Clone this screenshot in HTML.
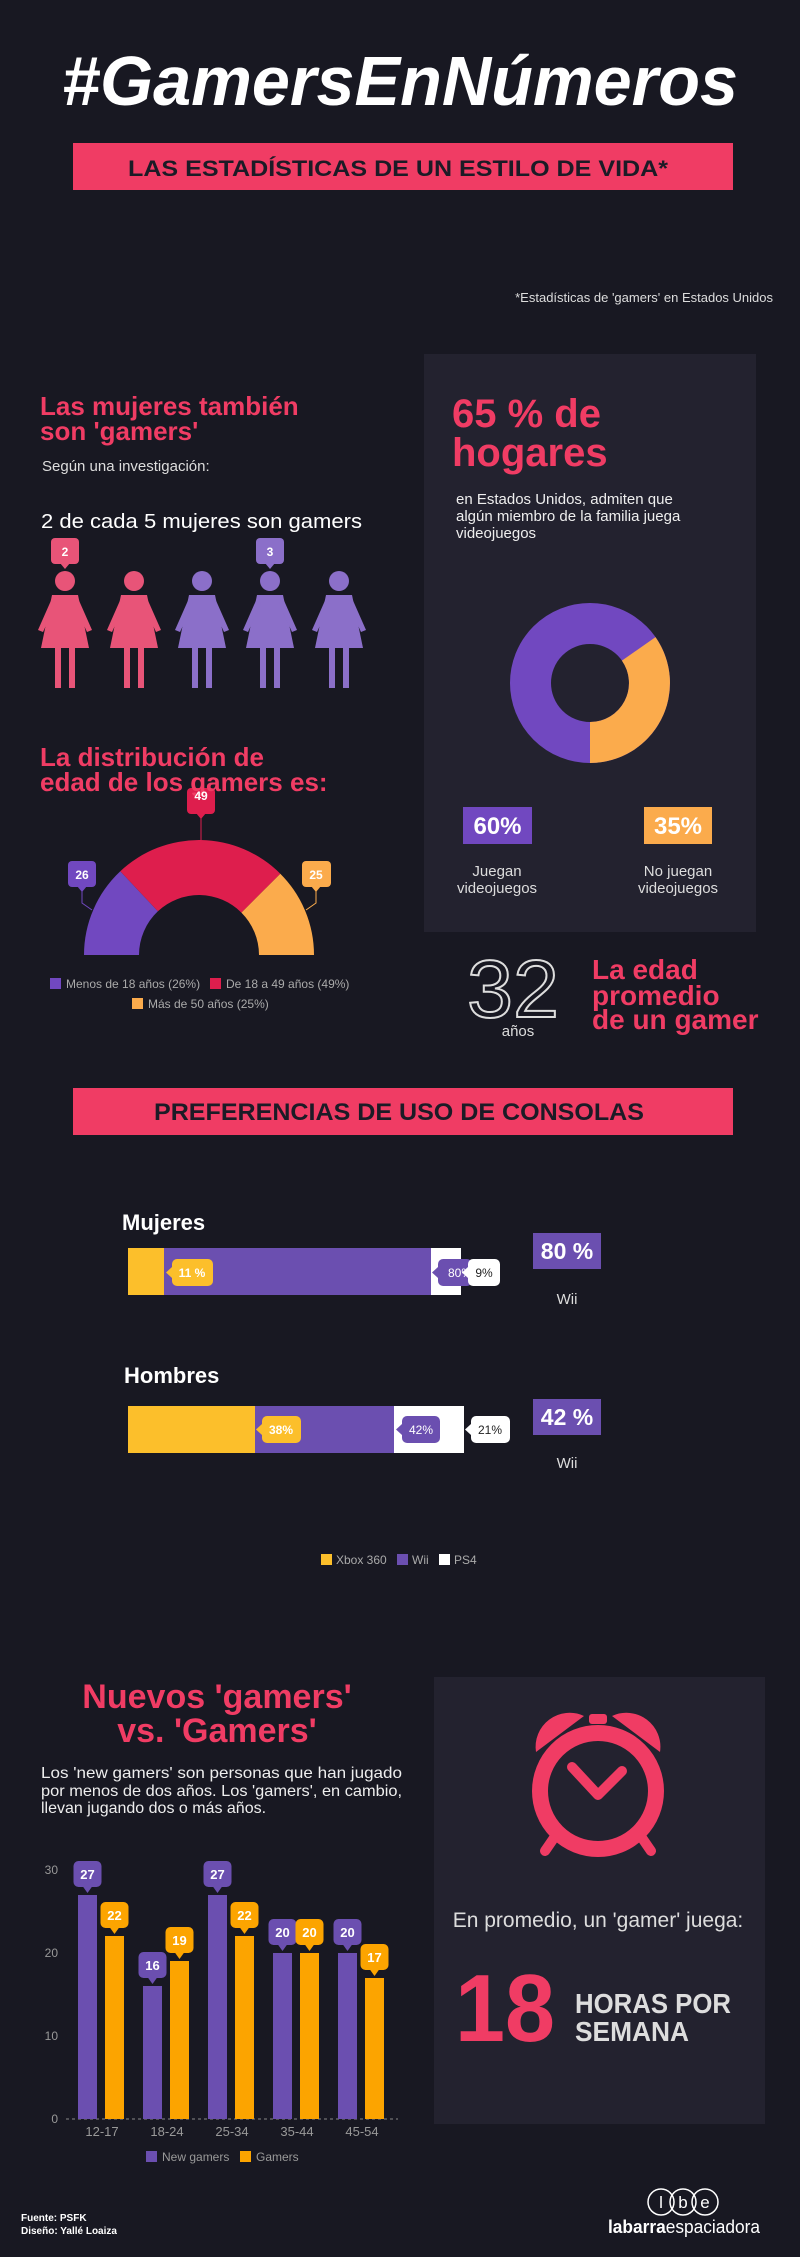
<!DOCTYPE html>
<html><head><meta charset="utf-8"><style>
html,body{margin:0;padding:0;background:#181822}
svg{display:block}
text{font-family:"Liberation Sans",sans-serif}
</style></head><body>
<svg width="800" height="2257" viewBox="0 0 800 2257" xmlns="http://www.w3.org/2000/svg">
<rect width="800" height="2257" fill="#181822"/>
<!-- Title -->
<text x="400" y="105" text-anchor="middle" font-size="70" font-weight="bold" font-style="italic" fill="#fff" textLength="676" lengthAdjust="spacingAndGlyphs">#GamersEnNúmeros</text>
<rect x="73" y="143" width="660" height="47" fill="#f03c64"/>
<text x="398" y="176" text-anchor="middle" font-size="22" font-weight="bold" fill="#1c1b26" textLength="540" lengthAdjust="spacingAndGlyphs">LAS ESTADÍSTICAS DE UN ESTILO DE VIDA*</text>
<text x="773" y="302" text-anchor="end" font-size="13" fill="#ddd">*Estadísticas de 'gamers' en Estados Unidos</text>

<!-- right panel -->
<rect x="424" y="354" width="332" height="578" fill="#23222f"/>
<text x="452" y="427" font-size="40" font-weight="bold" fill="#f03c64">65 % de</text>
<text x="452" y="466" font-size="40" font-weight="bold" fill="#f03c64">hogares</text>
<text x="456" y="504" font-size="15" fill="#eee">en Estados Unidos, admiten que</text>
<text x="456" y="521" font-size="15" fill="#eee">algún miembro de la familia juega</text>
<text x="456" y="538" font-size="15" fill="#eee">videojuegos</text>
<circle cx="590" cy="683" r="59.5" fill="none" stroke="#7148c0" stroke-width="41"/>
<path d="M655.5 637.1 A80 80 0 0 1 590 763 L590 722 A39 39 0 0 0 621.9 660.6 Z" fill="#fbab4c"/>
<rect x="463" y="807" width="69" height="37" fill="#7148c0"/>
<text x="497.5" y="834" text-anchor="middle" font-size="24" font-weight="bold" fill="#fff">60%</text>
<rect x="644" y="807" width="68" height="37" fill="#fbab4c"/>
<text x="678" y="834" text-anchor="middle" font-size="24" font-weight="bold" fill="#fff">35%</text>
<text x="497" y="876" text-anchor="middle" font-size="15" fill="#ddd">Juegan</text>
<text x="497" y="893" text-anchor="middle" font-size="15" fill="#ddd">videojuegos</text>
<text x="678" y="876" text-anchor="middle" font-size="15" fill="#ddd">No juegan</text>
<text x="678" y="893" text-anchor="middle" font-size="15" fill="#ddd">videojuegos</text>

<!-- left: women -->
<text x="40" y="415" font-size="26" font-weight="bold" fill="#f03c64">Las mujeres también</text>
<text x="40" y="440" font-size="26" font-weight="bold" fill="#f03c64">son 'gamers'</text>
<text x="42" y="471" font-size="15" fill="#ddd">Según una investigación:</text>
<text x="41" y="528" font-size="20" fill="#fff" textLength="321" lengthAdjust="spacingAndGlyphs">2 de cada 5 mujeres son gamers</text>
<g id="w">
</g>
<g fill="#e85478">
<g transform="translate(65,0)"><circle cx="0" cy="581" r="10"/><path d="M-13 595 L13 595 L24 648 L-24 648 Z"/><path d="M-12 596 L-27 630 L-22 632 L-9 604 Z M12 596 L27 630 L22 632 L9 604 Z"/><rect x="-10" y="646" width="6" height="42"/><rect x="4" y="646" width="6" height="42"/></g>
<g transform="translate(134,0)"><circle cx="0" cy="581" r="10"/><path d="M-13 595 L13 595 L24 648 L-24 648 Z"/><path d="M-12 596 L-27 630 L-22 632 L-9 604 Z M12 596 L27 630 L22 632 L9 604 Z"/><rect x="-10" y="646" width="6" height="42"/><rect x="4" y="646" width="6" height="42"/></g>
</g>
<g fill="#8b6fc9">
<g transform="translate(202,0)"><circle cx="0" cy="581" r="10"/><path d="M-13 595 L13 595 L24 648 L-24 648 Z"/><path d="M-12 596 L-27 630 L-22 632 L-9 604 Z M12 596 L27 630 L22 632 L9 604 Z"/><rect x="-10" y="646" width="6" height="42"/><rect x="4" y="646" width="6" height="42"/></g>
<g transform="translate(270,0)"><circle cx="0" cy="581" r="10"/><path d="M-13 595 L13 595 L24 648 L-24 648 Z"/><path d="M-12 596 L-27 630 L-22 632 L-9 604 Z M12 596 L27 630 L22 632 L9 604 Z"/><rect x="-10" y="646" width="6" height="42"/><rect x="4" y="646" width="6" height="42"/></g>
<g transform="translate(339,0)"><circle cx="0" cy="581" r="10"/><path d="M-13 595 L13 595 L24 648 L-24 648 Z"/><path d="M-12 596 L-27 630 L-22 632 L-9 604 Z M12 596 L27 630 L22 632 L9 604 Z"/><rect x="-10" y="646" width="6" height="42"/><rect x="4" y="646" width="6" height="42"/></g>
</g>
<rect x="51" y="538" width="28" height="26" rx="4" fill="#e85478"/><path d="M60 563 L65 569 L70 563 Z" fill="#e85478"/>
<text x="65" y="556" text-anchor="middle" font-size="12" font-weight="bold" fill="#fff">2</text>
<rect x="256" y="538" width="28" height="26" rx="4" fill="#8b6fc9"/><path d="M265 563 L270 569 L275 563 Z" fill="#8b6fc9"/>
<text x="270" y="556" text-anchor="middle" font-size="12" font-weight="bold" fill="#fff">3</text>

<!-- half donut -->
<path d="M84 955 A115 115 0 0 1 120.3 871.2 L157.9 911.3 A60 60 0 0 0 139 955 Z" fill="#7148c0"/>
<path d="M120.3 871.2 A115 115 0 0 1 280.3 873.7 L241.4 912.6 A60 60 0 0 0 157.9 911.3 Z" fill="#de1e4d"/>
<path d="M280.3 873.7 A115 115 0 0 1 314 955 L259 955 A60 60 0 0 0 241.4 912.6 Z" fill="#fbab4c"/>
<polyline points="82,888 82,903 92,910" fill="none" stroke="#7148c0" stroke-width="1"/>
<rect x="68" y="861" width="28" height="26" rx="4" fill="#7148c0"/><path d="M77 886 L82 892 L87 886 Z" fill="#7148c0"/>
<text x="82" y="879" text-anchor="middle" font-size="12" font-weight="bold" fill="#fff">26</text>
<polyline points="316,888 316,903 306,910" fill="none" stroke="#fbab4c" stroke-width="1"/>
<rect x="302" y="861" width="29" height="26" rx="4" fill="#fbab4c"/><path d="M311 886 L316 892 L321 886 Z" fill="#fbab4c"/>
<text x="316" y="879" text-anchor="middle" font-size="12" font-weight="bold" fill="#fff">25</text>
<line x1="201" y1="818" x2="201" y2="840" stroke="#de1e4d"/>
<rect x="187" y="788" width="28" height="26" rx="4" fill="#de1e4d"/><path d="M196 813 L201 819 L206 813 Z" fill="#de1e4d"/>
<text x="40" y="766" font-size="26" font-weight="bold" fill="#f03c64">La distribución de</text>
<text x="40" y="791" font-size="26" font-weight="bold" fill="#f03c64">edad de los gamers es:</text>
<text x="201" y="800" text-anchor="middle" font-size="12" font-weight="bold" fill="#fff">49</text>
<rect x="50" y="978" width="11" height="11" fill="#7148c0"/>
<text x="66" y="988" font-size="12" fill="#aaa">Menos de 18 años (26%)</text>
<rect x="210" y="978" width="11" height="11" fill="#de1e4d"/>
<text x="226" y="988" font-size="12" fill="#aaa">De 18 a 49 años (49%)</text>
<rect x="132" y="998" width="11" height="11" fill="#fbab4c"/>
<text x="148" y="1008" font-size="12" fill="#aaa">Más de 50 años (25%)</text>

<!-- 32 -->
<text x="513" y="1017" text-anchor="middle" font-size="82" font-weight="normal" fill="#181822" stroke="#ddd" stroke-width="2" textLength="92" lengthAdjust="spacingAndGlyphs">32</text>
<text x="518" y="1036" text-anchor="middle" font-size="15" fill="#ddd">años</text>
<text x="592" y="979" font-size="28" font-weight="bold" fill="#f03c64">La edad</text>
<text x="592" y="1005" font-size="28" font-weight="bold" fill="#f03c64">promedio</text>
<text x="592" y="1029" font-size="28" font-weight="bold" fill="#f03c64">de un gamer</text>

<!-- banner 2 -->
<rect x="73" y="1088" width="660" height="47" fill="#f03c64"/>
<text x="399" y="1120" text-anchor="middle" font-size="24" font-weight="bold" fill="#1c1b26" textLength="490" lengthAdjust="spacingAndGlyphs">PREFERENCIAS DE USO DE CONSOLAS</text>

<!-- Mujeres -->
<text x="122" y="1230" font-size="22" font-weight="bold" fill="#fff">Mujeres</text>
<rect x="128" y="1248" width="36" height="47" fill="#fcbf2b"/>
<rect x="164" y="1248" width="267" height="47" fill="#6b4fb0"/>
<rect x="431" y="1248" width="30" height="47" fill="#fff"/>
<rect x="172" y="1259" width="41" height="27" rx="5" fill="#fcbf2b"/><path d="M172 1267 L166 1272.5 L172 1278 Z" fill="#fcbf2b"/>
<text x="192" y="1277" text-anchor="middle" font-size="12" font-weight="bold" fill="#fff">11 %</text>
<rect x="438" y="1259" width="34" height="27" rx="5" fill="#6b4fb0"/><path d="M438 1267 L432 1272.5 L438 1278 Z" fill="#6b4fb0"/>
<text x="448" y="1277" font-size="12" fill="#fff">80%</text>
<rect x="468" y="1259" width="32" height="27" rx="5" fill="#fff"/><path d="M468 1267 L462 1272.5 L468 1278 Z" fill="#fff"/>
<text x="484" y="1277" text-anchor="middle" font-size="12" fill="#222">9%</text>
<rect x="533" y="1233" width="68" height="36" fill="#6b4fb0"/>
<text x="567" y="1259" text-anchor="middle" font-size="23" font-weight="bold" fill="#fff">80 %</text>
<text x="567" y="1304" text-anchor="middle" font-size="15" fill="#ddd">Wii</text>

<!-- Hombres -->
<text x="124" y="1383" font-size="22" font-weight="bold" fill="#fff">Hombres</text>
<rect x="128" y="1406" width="127" height="47" fill="#fcbf2b"/>
<rect x="255" y="1406" width="139" height="47" fill="#6b4fb0"/>
<rect x="394" y="1406" width="70" height="47" fill="#fff"/>
<rect x="262" y="1416" width="39" height="27" rx="5" fill="#fcbf2b"/><path d="M262 1424 L256 1429.5 L262 1435 Z" fill="#fcbf2b"/>
<text x="281" y="1434" text-anchor="middle" font-size="12" font-weight="bold" fill="#fff">38%</text>
<rect x="402" y="1416" width="38" height="27" rx="5" fill="#6b4fb0"/><path d="M402 1424 L396 1429.5 L402 1435 Z" fill="#6b4fb0"/>
<text x="421" y="1434" text-anchor="middle" font-size="12" fill="#fff">42%</text>
<rect x="471" y="1416" width="39" height="27" rx="5" fill="#fff"/><path d="M471 1424 L465 1429.5 L471 1435 Z" fill="#fff"/>
<text x="490" y="1434" text-anchor="middle" font-size="12" fill="#222">21%</text>
<rect x="533" y="1399" width="68" height="36" fill="#6b4fb0"/>
<text x="567" y="1425" text-anchor="middle" font-size="23" font-weight="bold" fill="#fff">42 %</text>
<text x="567" y="1468" text-anchor="middle" font-size="15" fill="#ddd">Wii</text>

<rect x="321" y="1554" width="11" height="11" fill="#fcbf2b"/>
<text x="336" y="1564" font-size="12" fill="#aaa">Xbox 360</text>
<rect x="397" y="1554" width="11" height="11" fill="#6b4fb0"/>
<text x="412" y="1564" font-size="12" fill="#aaa">Wii</text>
<rect x="439" y="1554" width="11" height="11" fill="#fff"/>
<text x="454" y="1564" font-size="12" fill="#aaa">PS4</text>

<!-- Section 3 right panel -->
<rect x="434" y="1677" width="331" height="447" fill="#23222f"/>
<g fill="#f03c64" stroke="none">
<path d="M536 1752 A34 34 0 0 1 584 1716 Z"/>
<path d="M660 1752 A34 34 0 0 0 612 1716 Z"/>
<rect x="589" y="1714" width="18" height="10" rx="3"/>
</g>
<circle cx="598" cy="1791" r="58" fill="none" stroke="#f03c64" stroke-width="16"/>
<line x1="556" y1="1835" x2="545" y2="1851" stroke="#f03c64" stroke-width="10" stroke-linecap="round"/>
<line x1="640" y1="1835" x2="651" y2="1851" stroke="#f03c64" stroke-width="10" stroke-linecap="round"/>
<polyline points="572,1767 598,1795 622,1771" fill="none" stroke="#f03c64" stroke-width="10" stroke-linecap="round" stroke-linejoin="round"/>
<text x="598" y="1927" text-anchor="middle" font-size="21" fill="#ddd">En promedio, un 'gamer' juega:</text>
<text x="455" y="2041" font-size="96" font-weight="bold" fill="#f03c64" textLength="100" lengthAdjust="spacingAndGlyphs">18</text>
<text x="575" y="2013" font-size="28" font-weight="bold" fill="#ddd" textLength="156" lengthAdjust="spacingAndGlyphs">HORAS POR</text>
<text x="575" y="2041" font-size="28" font-weight="bold" fill="#ddd" textLength="114" lengthAdjust="spacingAndGlyphs">SEMANA</text>

<!-- Section 3 left -->
<text x="217" y="1708" text-anchor="middle" font-size="34" font-weight="bold" fill="#f03c64">Nuevos 'gamers'</text>
<text x="217" y="1742" text-anchor="middle" font-size="34" font-weight="bold" fill="#f03c64">vs. 'Gamers'</text>
<text x="41" y="1778" font-size="16" fill="#eee" textLength="361" lengthAdjust="spacingAndGlyphs">Los 'new gamers' son personas que han jugado</text>
<text x="41" y="1796" font-size="16" fill="#eee" textLength="361" lengthAdjust="spacingAndGlyphs">por menos de dos años. Los 'gamers', en cambio,</text>
<text x="41" y="1813" font-size="16" fill="#eee">llevan jugando dos o más años.</text>

<g font-size="12" fill="#999" text-anchor="end">
<text x="58" y="1874">30</text><text x="58" y="1957">20</text><text x="58" y="2040">10</text><text x="58" y="2123">0</text>
</g>
<line x1="66" y1="2119" x2="398" y2="2119" stroke="#888" stroke-dasharray="3,3"/>
<g fill="#6b4fb0">
<rect x="78" y="1895" width="19" height="224"/>
<rect x="143" y="1986" width="19" height="133"/>
<rect x="208" y="1895" width="19" height="224"/>
<rect x="273" y="1953" width="19" height="166"/>
<rect x="338" y="1953" width="19" height="166"/>
</g>
<g fill="#fca400">
<rect x="105" y="1936" width="19" height="183"/>
<rect x="170" y="1961" width="19" height="158"/>
<rect x="235" y="1936" width="19" height="183"/>
<rect x="300" y="1953" width="19" height="166"/>
<rect x="365" y="1978" width="19" height="141"/>
</g>
<g font-size="13" font-weight="bold" fill="#fff" text-anchor="middle">
<g fill="#6b4fb0">
<rect x="73.5" y="1861" width="28" height="26" rx="5"/><path d="M82.5 1886 L87.5 1893 L92.5 1886Z"/>
<rect x="138.5" y="1952" width="28" height="26" rx="5"/><path d="M147.5 1977 L152.5 1984 L157.5 1977Z"/>
<rect x="203.5" y="1861" width="28" height="26" rx="5"/><path d="M212.5 1886 L217.5 1893 L222.5 1886Z"/>
<rect x="268.5" y="1919" width="28" height="26" rx="5"/><path d="M277.5 1944 L282.5 1951 L287.5 1944Z"/>
<rect x="333.5" y="1919" width="28" height="26" rx="5"/><path d="M342.5 1944 L347.5 1951 L352.5 1944Z"/>
</g>
<g fill="#fca400">
<rect x="100.5" y="1902" width="28" height="26" rx="5"/><path d="M109.5 1927 L114.5 1934 L119.5 1927Z"/>
<rect x="165.5" y="1927" width="28" height="26" rx="5"/><path d="M174.5 1952 L179.5 1959 L184.5 1952Z"/>
<rect x="230.5" y="1902" width="28" height="26" rx="5"/><path d="M239.5 1927 L244.5 1934 L249.5 1927Z"/>
<rect x="295.5" y="1919" width="28" height="26" rx="5"/><path d="M304.5 1944 L309.5 1951 L314.5 1944Z"/>
<rect x="360.5" y="1944" width="28" height="26" rx="5"/><path d="M369.5 1969 L374.5 1976 L379.5 1969Z"/>
</g>
<text x="87.5" y="1879">27</text><text x="152.5" y="1970">16</text><text x="217.5" y="1879">27</text><text x="282.5" y="1937">20</text><text x="347.5" y="1937">20</text>
<text x="114.5" y="1920">22</text><text x="179.5" y="1945">19</text><text x="244.5" y="1920">22</text><text x="309.5" y="1937">20</text><text x="374.5" y="1962">17</text>
</g>
<g font-size="13" fill="#999" text-anchor="middle">
<text x="102" y="2136">12-17</text><text x="167" y="2136">18-24</text><text x="232" y="2136">25-34</text><text x="297" y="2136">35-44</text><text x="362" y="2136">45-54</text>
</g>
<rect x="146" y="2151" width="11" height="11" fill="#6b4fb0"/>
<text x="162" y="2161" font-size="12" fill="#999">New gamers</text>
<rect x="240" y="2151" width="11" height="11" fill="#fca400"/>
<text x="256" y="2161" font-size="12" fill="#999">Gamers</text>

<!-- footer -->
<text x="21" y="2221" font-size="10" font-weight="bold" fill="#fff">Fuente: PSFK</text>
<text x="21" y="2234" font-size="10" font-weight="bold" fill="#fff">Diseño: Yallé Loaiza</text>
<g fill="none" stroke="#fff" stroke-width="1.5">
<circle cx="661" cy="2202" r="13"/><circle cx="683" cy="2202" r="13"/><circle cx="705" cy="2202" r="13"/>
</g>
<g font-size="17" fill="#fff" text-anchor="middle"><text x="661" y="2208">l</text><text x="683" y="2208">b</text><text x="705" y="2208">e</text></g>
<text x="608" y="2233" font-size="18" fill="#fff" textLength="152" lengthAdjust="spacingAndGlyphs"><tspan font-weight="bold">labarra</tspan>espaciadora</text>
</svg>
</body></html>
